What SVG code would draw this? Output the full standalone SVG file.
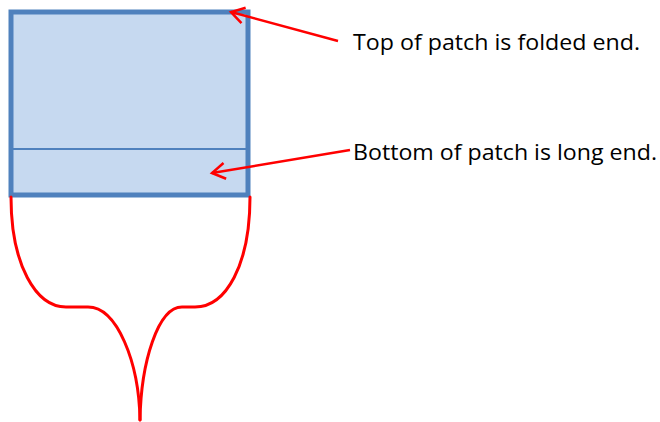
<svg xmlns="http://www.w3.org/2000/svg" width="660" height="422" viewBox="0 0 660 422">
<style>
.lbl{font-family:"Open Sans","Liberation Sans",sans-serif;font-size:21px;fill:#000}
.arr{stroke:#ff0000;stroke-width:2.5;fill:none}
.tail{stroke:#ff0000;stroke-width:3;fill:none;stroke-linecap:round}
</style>
<defs>
<marker id="ah" markerUnits="userSpaceOnUse" markerWidth="30" markerHeight="30" viewBox="-15 -15 30 30" refX="0" refY="0" orient="auto">
<path d="M-13,-8 L0,0 L-13,8" fill="none" stroke="#ff0000" stroke-width="2.5"/>
</marker>
</defs>
<rect width="660" height="422" fill="#fff"/>
<g id="patch">
<rect x="11" y="12" width="237" height="183" fill="#c6d9f0" stroke="#4f81bd" stroke-width="5"/>
<line x1="13" y1="149" x2="246" y2="149" stroke="#4f81bd" stroke-width="1.8"/>
</g>
<g id="tail-shape">
<path class="tail" d="M11,197 C11,265 36,307 66,307 L88,307 C117,307 139,362 140,420"/>
<path class="tail" d="M250,197 C250,265 226,307 195,307 L182,307 C158,307 141,362 140,420"/>
</g>
<g id="label-top">
<text class="lbl" x="353" y="50" textLength="287" lengthAdjust="spacingAndGlyphs">Top of patch is folded end.</text>
</g>
<g id="label-bottom">
<text class="lbl" x="353" y="160" textLength="304" lengthAdjust="spacingAndGlyphs">Bottom of patch is long end.</text>
</g>
<g id="connectors">
<line class="arr" x1="338" y1="41" x2="231" y2="12" marker-end="url(#ah)"/>
<line class="arr" x1="350" y1="150" x2="212" y2="173" marker-end="url(#ah)"/>
</g>
</svg>
